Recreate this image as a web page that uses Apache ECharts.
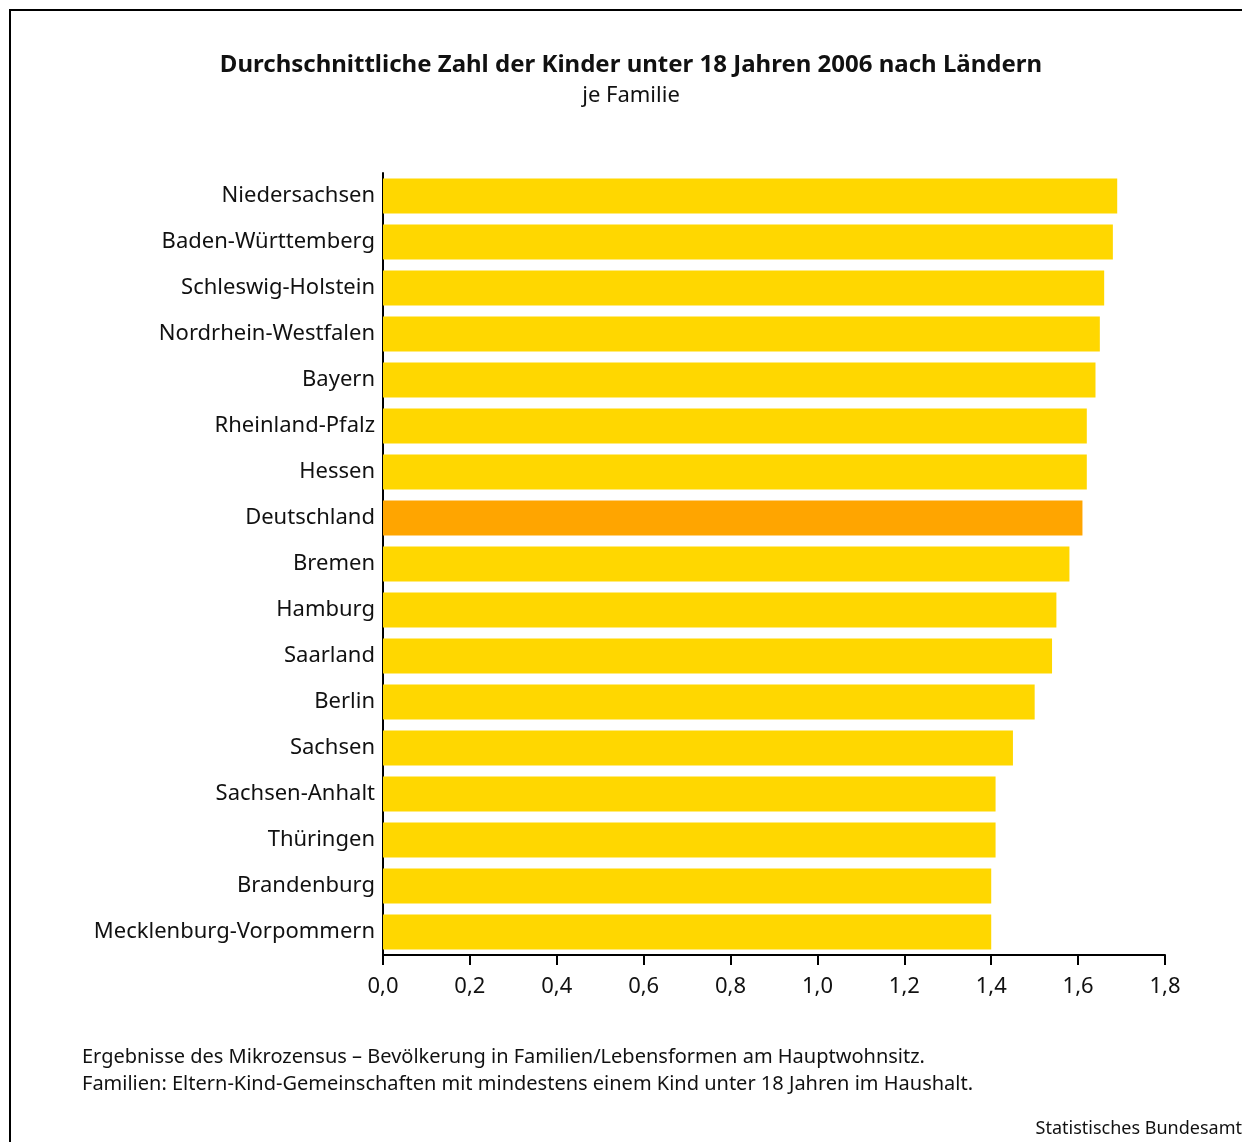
<!DOCTYPE html>
<html>
<head>
<meta charset="utf-8">
<script src="https://cdn.jsdelivr.net/npm/echarts@6/dist/echarts.min.js"></script>
<style>
html,body{margin:0;padding:0;background:#fff;}
#c{width:1242px;height:1142px;}
</style>
</head>
<body>
<div id="c"></div>
<script>
const categories = ["Niedersachsen","Baden-Württemberg","Schleswig-Holstein","Nordrhein-Westfalen","Bayern","Rheinland-Pfalz","Hessen","Deutschland","Bremen","Hamburg","Saarland","Berlin","Sachsen","Sachsen-Anhalt","Thüringen","Brandenburg","Mecklenburg-Vorpommern"];
const values = [1.69,1.68,1.66,1.65,1.64,1.62,1.62,1.61,1.58,1.55,1.54,1.50,1.45,1.41,1.41,1.40,1.40];
const highlight = "Deutschland";
const titleText = "Durchschnittliche Zahl der Kinder unter 18 Jahren 2006 nach Ländern";
const subtitleText = "je Familie";
const notes = ["Ergebnisse des Mikrozensus – Bevölkerung in Familien/Lebensformen am Hauptwohnsitz.","Familien: Eltern-Kind-Gemeinschaften mit mindestens einem Kind unter 18 Jahren im Haushalt."];
const source = "Statistisches Bundesamt";

const FONT = "Noto Sans";
const chart = echarts.init(document.getElementById('c'));
chart.setOption({
  animation:false,
  backgroundColor:'#fff',
  grid:{left:383, right:77, top:173, bottom:187, containLabel:false},
  xAxis:{
    type:'value', min:0, max:1.8, interval:0.2,
    axisLine:{show:true, lineStyle:{color:'#000', width:2}},
    axisTick:{show:true, length:10, lineStyle:{color:'#000', width:2}},
    splitLine:{show:false},
    axisLabel:{margin:21, color:'#111', fontFamily:FONT, fontSize:22,
      formatter:v=>v.toFixed(1).replace('.',',')}
  },
  yAxis:{
    type:'category', data:categories, inverse:true,
    axisLine:{show:true, lineStyle:{color:'#000', width:2}},
    axisTick:{show:false},
    axisLabel:{margin:8, color:'#111', fontFamily:FONT, fontSize:22}
  },
  series:[{
    type:'bar',
    barCategoryGap:'24%',
    data:values.map((v,i)=>({value:v, itemStyle:{color: categories[i]===highlight ? '#FFA500' : '#FFD700'}}))
  }],
  graphic:[
    {type:'rect', shape:{x:10,y:10,width:1300,height:1200}, style:{fill:'none', stroke:'#000', lineWidth:2}, z:-1},
    {type:'text', x:631, y:65, style:{text:titleText, fontFamily:FONT, fontWeight:'bold', fontSize:24, fill:'#111', align:'center', verticalAlign:'middle'}},
    {type:'text', x:631, y:96, style:{text:subtitleText, fontFamily:FONT, fontSize:22, fill:'#111', align:'center', verticalAlign:'middle'}},
    {type:'text', x:82, y:1057, style:{text:notes[0], fontFamily:FONT, fontSize:20, fill:'#111', align:'left', verticalAlign:'middle'}},
    {type:'text', x:82, y:1084, style:{text:notes[1], fontFamily:FONT, fontSize:20, fill:'#111', align:'left', verticalAlign:'middle'}},
    {type:'text', x:1242, y:1129, style:{text:source, fontFamily:FONT, fontSize:18, fill:'#111', align:'right', verticalAlign:'middle'}}
  ]
});
</script>
</body>
</html>
